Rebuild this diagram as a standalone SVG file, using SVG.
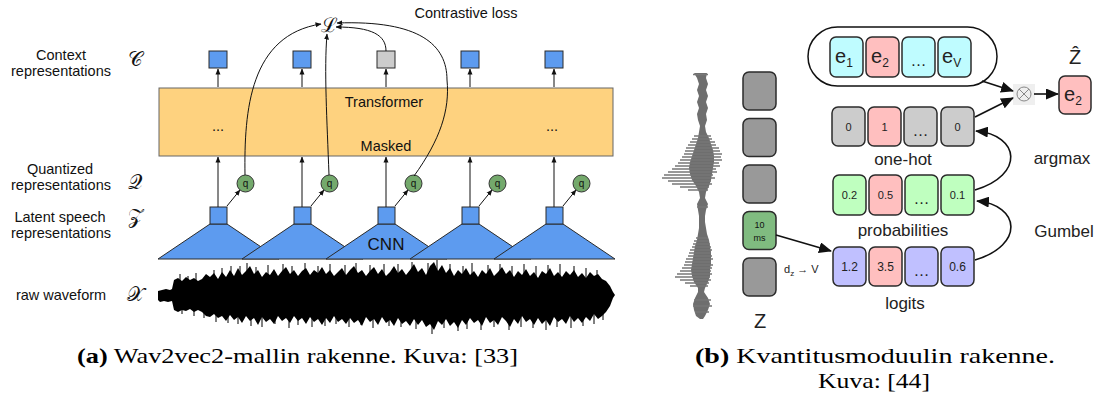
<svg xmlns="http://www.w3.org/2000/svg" width="1104" height="411" viewBox="0 0 1104 411">
<style>
text{font-family:"Liberation Sans",Arial,sans-serif;fill:#111}
.lbl{font-size:14.5px;text-anchor:middle}
.scr{font-family:"DejaVu Serif","Liberation Serif",serif;font-size:20px;text-anchor:middle}
.cap{font-family:"Liberation Serif","Times New Roman",serif;font-size:22px;fill:#000}
.blue{fill:#5d9bef;stroke:#2a2a2a;stroke-width:1}
.q{fill:#74a96c;stroke:#333;stroke-width:1}
.ln{fill:none;stroke:#111;stroke-width:1}
.bx{stroke:#2b2b2b;stroke-width:1.5}
.gray{fill:#999999}
.lgray{fill:#cccccc}
.pink{fill:#ffbfbf}
.cyan{fill:#bffcff}
.green{fill:#bfffbf}
.lav{fill:#c0c0ff}
.num{font-size:11px;text-anchor:middle;fill:#222}
.dots{font-size:16px;text-anchor:middle;fill:#222}
.big{font-size:17px;text-anchor:middle;fill:#222}
.e{font-size:20px;fill:#222}
.arr{fill:none;stroke:#111;stroke-width:1.6}
</style>
<defs>
<marker id="ah" markerUnits="userSpaceOnUse" markerWidth="6" markerHeight="6" refX="5.5" refY="3" orient="auto"><path d="M0,0.5 L6,3 L0,5.5 z" fill="#111"/></marker>
<marker id="bh" markerUnits="userSpaceOnUse" markerWidth="13" markerHeight="11" refX="12" refY="5.5" orient="auto"><path d="M0,0 L13,5.5 L0,11 z" fill="#111"/></marker>
</defs>
<rect width="1104" height="411" fill="#fff"/>

<!-- LEFT PANEL -->
<g id="labels-left">
<text class="lbl" x="61" y="60">Context</text>
<text class="lbl" x="61" y="76">representations</text>
<text class="lbl" x="60" y="174">Quantized</text>
<text class="lbl" x="61" y="190">representations</text>
<text class="lbl" x="60" y="222">Latent speech</text>
<text class="lbl" x="61" y="238">representations</text>
<text class="lbl" x="61" y="300">raw waveform</text>
<text class="scr" x="135" y="66">𝒞</text>
<text class="scr" x="135" y="189">𝒬</text>
<text class="scr" x="135" y="223">𝒵</text>
<text class="scr" x="135" y="301">𝒳</text>
</g>
<g id="loss">
<text class="scr" x="329" y="32">ℒ</text>
<text x="466" y="18" style="font-size:14.5px;text-anchor:middle">Contrastive loss</text>
</g>
<g id="transformer">
<rect x="159" y="88" width="454" height="68" fill="#fed27f" stroke="#666" stroke-width="1"/>
<text class="lbl" x="384" y="107">Transformer</text>
<text class="lbl" x="386" y="151">Masked</text>
<text class="lbl" x="218" y="131">...</text>
<text class="lbl" x="552" y="131">...</text>
</g>
<g id="context">
<rect class="blue" x="209" y="51" width="18" height="17"/>
<rect class="blue" x="293" y="51" width="18" height="17"/>
<rect x="377" y="51" width="18" height="17" fill="#cccccc" stroke="#2a2a2a"/>
<rect class="blue" x="461" y="51" width="18" height="17"/>
<rect class="blue" x="545" y="51" width="18" height="17"/>
</g>
<g id="cnn">
<path class="blue" d="M210,224 L227,224 L279,259 L158,259 Z"/>
<path class="blue" d="M294,224 L311,224 L363,259 L242,259 Z"/>
<path class="blue" d="M378,224 L395,224 L447,259 L326,259 Z"/>
<path class="blue" d="M462,224 L479,224 L531,259 L410,259 Z"/>
<path class="blue" d="M546,224 L563,224 L615,259 L494,259 Z"/>
<text x="386" y="250" style="font-size:17px;text-anchor:middle">CNN</text>
</g>
<g id="latent">
<rect class="blue" x="210" y="207" width="17" height="17"/>
<rect class="blue" x="294" y="207" width="17" height="17"/>
<rect class="blue" x="378" y="207" width="17" height="17"/>
<rect class="blue" x="462" y="207" width="17" height="17"/>
<rect class="blue" x="546" y="207" width="17" height="17"/>
</g>
<g id="quant">
<circle class="q" cx="245.5" cy="183.5" r="8.5"/><text x="245.5" y="187" style="font-size:10px;text-anchor:middle">q</text>
<circle class="q" cx="329.5" cy="183.5" r="8.5"/><text x="329.5" y="187" style="font-size:10px;text-anchor:middle">q</text>
<circle class="q" cx="413.5" cy="183.5" r="8.5"/><text x="413.5" y="187" style="font-size:10px;text-anchor:middle">q</text>
<circle class="q" cx="497.5" cy="183.5" r="8.5"/><text x="497.5" y="187" style="font-size:10px;text-anchor:middle">q</text>
<circle class="q" cx="581.5" cy="183.5" r="8.5"/><text x="581.5" y="187" style="font-size:10px;text-anchor:middle">q</text>
</g>
<g id="waveform-left">
<path fill="#000" d="M158,291 162,290 166,289 170,290 172,289 174,280 178,278 182,281 186,277 190,280 194,278 198,281 202,279 206,274 210,277 214,273 218,279 222,272 226,277 230,270 234,276 238,268 242,275 246,271 250,266 254,274 258,270 262,277 266,272 270,275 274,269 278,276 282,271 286,267 290,274 294,270 298,276 302,271 306,268 310,275 314,270 318,273 322,267 326,274 330,270 334,276 338,272 342,268 346,275 350,270 354,266 358,273 362,270 366,276 370,271 374,267 378,274 382,269 386,276 390,272 394,266 398,273 402,269 406,275 410,270 414,264 418,272 422,268 426,275 430,266 434,262 438,271 442,265 446,273 450,268 454,276 458,270 462,274 466,268 470,275 474,271 478,277 482,270 486,274 490,268 494,276 498,272 502,267 506,274 510,270 514,277 518,271 522,275 526,269 530,276 534,272 538,278 542,271 546,274 550,268 554,276 558,272 562,277 566,271 570,275 574,270 578,277 582,273 586,278 590,272 594,276 598,274 602,279 606,281 610,286 613,292 615,295 613,298 610,306 606,312 602,316 598,319 594,314 590,321 586,317 582,323 578,318 574,322 570,316 566,324 562,319 558,322 554,317 550,326 546,320 542,324 538,318 534,325 530,319 526,322 522,316 518,324 514,319 510,327 506,321 502,317 498,325 494,320 490,323 486,317 482,326 478,320 474,323 470,318 466,325 462,320 458,328 454,322 450,326 446,319 442,325 438,321 434,330 430,324 426,327 422,320 418,325 414,319 410,326 406,321 402,324 398,318 394,326 390,320 386,323 382,317 378,325 374,319 370,322 366,317 362,326 358,320 354,323 350,318 346,324 342,319 338,322 334,316 330,323 326,318 322,325 318,319 314,322 310,317 306,324 302,318 298,321 294,316 290,323 286,318 282,321 278,316 274,324 270,319 266,322 262,317 258,325 254,318 250,321 246,316 242,323 238,317 234,320 230,315 226,321 222,316 218,318 214,314 210,317 206,316 202,312 198,310 194,312 190,309 186,311 182,310 178,312 174,310 172,301 168,302 164,301 160,302 158,300 Z"/>
<path fill="none" stroke="#000" stroke-width="1" d="M180,296V274 M188,296V276 M196,296V273 M214,296V270 M222,296V268 M231,296V266 M240,296V266 M247,296V263 M256,296V267 M268,296V265 M283,296V264 M292,296V266 M305,296V263 M318,296V266 M330,296V264 M345,296V265 M356,296V263 M370,296V265 M384,296V264 M398,296V264 M412,296V262 M428,296V263 M437,296V260 M450,296V264 M463,296V266 M472,296V263 M488,296V265 M500,296V264 M512,296V266 M524,296V264 M536,296V266 M548,296V265 M560,296V264 M574,296V266 M586,296V268 M597,296V270 M182,296V314 M194,296V316 M204,296V318 M216,296V322 M228,296V323 M238,296V324 M251,296V326 M262,296V327 M275,296V324 M289,296V328 M298,296V325 M312,296V327 M325,296V326 M336,296V324 M349,296V327 M361,296V325 M373,296V328 M389,296V326 M401,296V327 M416,296V329 M432,296V334 M444,296V328 M458,296V331 M467,296V329 M481,296V330 M494,296V327 M509,296V330 M521,296V327 M533,296V328 M546,296V330 M557,296V327 M571,296V328 M583,296V326 M594,296V324 M603,296V320"/>
</g>
<g id="connectors-left">
<path class="ln" marker-end="url(#ah)" d="M218,87 V69"/>
<path class="ln" marker-end="url(#ah)" d="M302,87 V69"/>
<path class="ln" marker-end="url(#ah)" d="M386,87 V69"/>
<path class="ln" marker-end="url(#ah)" d="M470,87 V69"/>
<path class="ln" marker-end="url(#ah)" d="M554,87 V69"/>
<path class="ln" marker-end="url(#ah)" d="M218,207 V157"/>
<path class="ln" marker-end="url(#ah)" d="M302,207 V157"/>
<path class="ln" marker-end="url(#ah)" d="M386,207 V157"/>
<path class="ln" marker-end="url(#ah)" d="M470,207 V157"/>
<path class="ln" marker-end="url(#ah)" d="M554,207 V157"/>
<path class="ln" marker-end="url(#ah)" d="M227,206 L240,190"/>
<path class="ln" marker-end="url(#ah)" d="M311,206 L324,190"/>
<path class="ln" marker-end="url(#ah)" d="M395,206 L408,190"/>
<path class="ln" marker-end="url(#ah)" d="M479,206 L492,190"/>
<path class="ln" marker-end="url(#ah)" d="M563,206 L576,190"/>
<path class="ln" marker-end="url(#ah)" d="M245,175 C244,110 250,35 321,24"/>
<path class="ln" marker-end="url(#ah)" d="M329,175 C327,120 324,70 327,34"/>
<path class="ln" marker-end="url(#ah)" d="M386,51 C386,35 372,27 336,27"/>
<path class="ln" marker-end="url(#ah)" d="M414,176 C440,140 450,110 447,80 C447,45 420,20 337,23"/>
</g>

<!-- RIGHT PANEL -->
<g id="waveform-right">
<path fill="#6e6e6e" d="M707,73 706,78 708,84 706,90 708,96 706,102 708,108 706,114 707,120 705,126 706,132 709,138 711,144 713,150 714,156 714,162 713,168 712,174 711,180 709,186 706,192 705,198 708,204 706,210 705,216 705,222 706,228 707,234 709,240 710,246 711,252 711,258 711,264 710,270 710,276 708,282 705,288 704,292 708,298 710,304 708,310 705,316 703,319 700,319 696,316 694,310 693,304 695,298 698,292 698,288 694,282 692,276 691,270 692,264 693,258 694,252 695,246 697,240 698,234 699,228 699,222 699,216 698,210 697,204 700,198 699,192 696,186 692,180 690,174 689,168 690,162 692,156 694,150 696,144 698,138 699,132 700,126 698,120 697,114 699,108 697,102 699,96 697,90 699,84 697,78 694,73 Z"/>
<path fill="none" stroke="#777" stroke-width="1.3" d="M693,74.5H708 M697,207H708 M694,136H711 M692,139H712 M690,142H715 M688,145H716 M686,148H719 M685,151H720 M684,154H722 M682,157H721 M680,160H722 M678,163H719 M675,166H720 M672,169H716 M668,172H717 M664,175H713 M662,178H715 M668,181H711 M672,184H712 M680,187H709 M688,190H708 M696,238H708 M694,241H709 M693,244H710 M692,247H711 M690,250H712 M689,253H711 M688,256H712 M686,259H713 M685,262H711 M684,265H713 M682,268H712 M680,271H711 M677,274H712 M675,277H710 M680,280H711 M685,283H709 M690,286H708 M694,300H711 M693,306H712 M695,312H709"/>
</g>
<g id="z-column">
<rect class="bx gray" x="743" y="72" width="33" height="38" rx="6"/>
<rect class="bx gray" x="743" y="118.5" width="33" height="38" rx="6"/>
<rect class="bx gray" x="743" y="165" width="33" height="38" rx="6"/>
<rect class="bx" fill="#80bb80" x="743" y="211.5" width="33" height="38" rx="6"/>
<text x="759.5" y="228" style="font-size:9px;text-anchor:middle">10</text>
<text x="759.5" y="241" style="font-size:9px;text-anchor:middle">ms</text>
<rect class="bx gray" x="743" y="258" width="33" height="38" rx="6"/>
<text x="760" y="328" style="font-size:20px;text-anchor:middle;fill:#222">Z</text>
</g>
<g id="codebook">
<rect x="808" y="27" width="189" height="59" rx="29.5" fill="#fff" stroke="#111" stroke-width="1.5"/>
<rect class="bx cyan" x="830" y="37" width="33" height="40" rx="6"/>
<text class="e" x="835" y="63">e<tspan dy="4" style="font-size:12px">1</tspan></text>
<rect class="bx pink" x="866" y="37" width="33" height="40" rx="6"/>
<text class="e" x="871" y="63">e<tspan dy="4" style="font-size:12px">2</tspan></text>
<rect class="bx cyan" x="902" y="37" width="33" height="40" rx="6"/>
<text class="dots" x="918.5" y="66">…</text>
<rect class="bx cyan" x="938" y="37" width="33" height="40" rx="6"/>
<text class="e" x="942" y="63">e<tspan dy="4" style="font-size:12px">V</tspan></text>
</g>
<g id="otimes">
<rect x="1013" y="84" width="22" height="21" fill="#efefef"/>
<circle cx="1024" cy="94" r="7" fill="none" stroke="#888" stroke-width="1"/>
<path d="M1019,89 L1029,99 M1029,89 L1019,99" stroke="#888" stroke-width="1"/>
</g>
<g id="zhat">
<text x="1075" y="64" style="font-size:20px;text-anchor:middle;fill:#222">Ẑ</text>
<rect class="bx pink" x="1059" y="76" width="32" height="38" rx="6"/>
<text class="e" x="1064" y="101">e<tspan dy="4" style="font-size:12px">2</tspan></text>
</g>
<g id="one-hot">
<rect class="bx lgray" x="832" y="107" width="33" height="39" rx="6"/>
<text class="num" x="848.5" y="131">0</text>
<rect class="bx pink" x="868" y="107" width="33" height="39" rx="6"/>
<text class="num" x="884.5" y="131">1</text>
<rect class="bx lgray" x="904" y="107" width="33" height="39" rx="6"/>
<text class="dots" x="920.5" y="136">…</text>
<rect class="bx lgray" x="941" y="107" width="33" height="39" rx="6"/>
<text class="num" x="957.5" y="131">0</text>
<text class="big" x="903" y="165">one-hot</text>
</g>
<g id="probabilities">
<rect class="bx green" x="833" y="175" width="33" height="40" rx="6"/>
<text class="num" x="849.5" y="199">0.2</text>
<rect class="bx pink" x="869" y="175" width="33" height="40" rx="6"/>
<text class="num" x="885.5" y="199">0.5</text>
<rect class="bx green" x="905" y="175" width="33" height="40" rx="6"/>
<text class="dots" x="921.5" y="204">…</text>
<rect class="bx green" x="941" y="175" width="33" height="40" rx="6"/>
<text class="num" x="957.5" y="199">0.1</text>
<text class="big" x="903" y="236">probabilities</text>
</g>
<g id="logits">
<rect class="bx lav" x="833" y="247" width="33" height="39" rx="6"/>
<text class="num" x="849.5" y="271" style="font-size:12px">1.2</text>
<rect class="bx pink" x="869" y="247" width="33" height="39" rx="6"/>
<text class="num" x="885.5" y="271" style="font-size:12px">3.5</text>
<rect class="bx lav" x="905" y="247" width="33" height="39" rx="6"/>
<text class="dots" x="921.5" y="276">…</text>
<rect class="bx lav" x="941" y="247" width="33" height="39" rx="6"/>
<text class="num" x="957.5" y="271" style="font-size:12px">0.6</text>
<text class="big" x="905" y="309">logits</text>
</g>
<g id="labels-right">
<text x="1062" y="164" style="font-size:17px;text-anchor:middle;fill:#222">argmax</text>
<text x="1064" y="237" style="font-size:17px;text-anchor:middle;fill:#222">Gumbel</text>
<text x="784" y="273" style="font-size:11px;fill:#222">d<tspan dy="3" style="font-size:8px">z</tspan><tspan dy="-3"> → V</tspan></text>
</g>
<g id="connectors-right">
<path class="arr" marker-end="url(#bh)" d="M776,235 L831,251"/>
<path class="arr" marker-end="url(#bh)" d="M975,260 C1025,245 1020,205 977,201"/>
<path class="arr" marker-end="url(#bh)" d="M975,190 C1025,175 1020,135 976,131"/>
<path class="arr" marker-end="url(#bh)" d="M982,81 L1013,91"/>
<path class="arr" marker-end="url(#bh)" d="M975,117 L1013,98"/>
<path class="arr" marker-end="url(#bh)" d="M1034,94 L1058,94"/>
</g>

<!-- CAPTIONS -->
<g id="captions">
<text class="cap" x="77" y="363" textLength="441" lengthAdjust="spacingAndGlyphs"><tspan font-weight="bold">(a)</tspan> Wav2vec2-mallin rakenne. Kuva: [33]</text>
<text class="cap" x="695" y="363" textLength="360" lengthAdjust="spacingAndGlyphs"><tspan font-weight="bold">(b)</tspan> Kvantitusmoduulin rakenne.</text>
<text class="cap" x="818" y="388" textLength="112" lengthAdjust="spacingAndGlyphs">Kuva: [44]</text>
</g>
</svg>
